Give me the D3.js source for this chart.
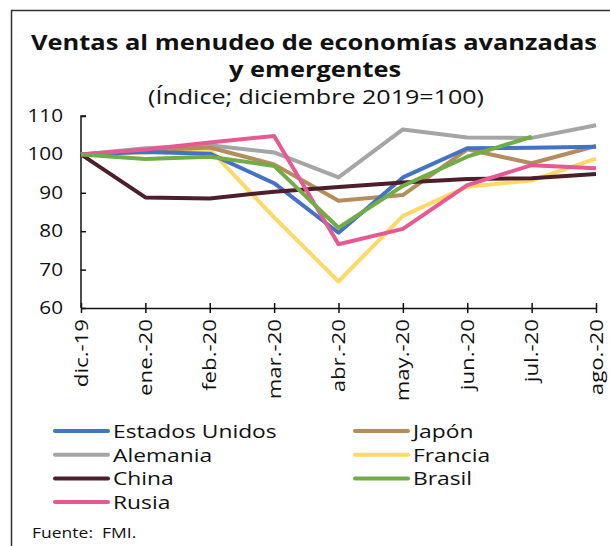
<!DOCTYPE html>
<html>
<head>
<meta charset="utf-8">
<script src="https://cdn.jsdelivr.net/npm/d3@7"></script>
<style>
  body { margin: 0; background: #fff; }
  text { font-family: "Open Sans", "Noto Sans", sans-serif; fill: #111; }
</style>
</head>
<body>
<div id="chart"></div>
<script>
const months = ['dic.-19', 'ene.-20', 'feb.-20', 'mar.-20', 'abr.-20', 'may.-20', 'jun.-20', 'jul.-20', 'ago.-20'];
const yTicks = [60, 70, 80, 90, 100, 110];

const estadosUnidos = [100, 100.6, 100.2, 92.5, 79.6, 94.0, 101.6, 101.7, 102.0];
const japon = [100, 101.0, 101.8, 97.4, 87.9, 89.4, 101.3, 97.7, 102.2];
const alemania = [100, 101.6, 102.4, 100.5, 94.0, 106.5, 104.4, 104.3, 107.6];
const francia = [100, 100.5, 101.3, 83.6, 66.9, 84.0, 91.6, 93.2, 98.9];
const china = [100, 88.8, 88.5, 90.3, 91.5, 92.7, 93.6, 93.8, 94.9];
const brasil = [100, 98.8, 99.4, 97.0, 80.9, 91.8, 99.4, 104.6];
const rusia = [100, 101.3, 103.1, 104.8, 76.6, 80.6, 92.0, 97.2, 96.4];

const series = [
  { name: 'Estados Unidos', values: estadosUnidos, color: '#4472c4' },
  { name: 'Japón', values: japon, color: '#b38d5b' },
  { name: 'Alemania', values: alemania, color: '#a5a5a5' },
  { name: 'Francia', values: francia, color: '#ffd966' },
  { name: 'China', values: china, color: '#4d1f2b' },
  { name: 'Brasil', values: brasil, color: '#70ad47' },
  { name: 'Rusia', values: rusia, color: '#e75993' }
];
// order the lines are stacked in (last on top)
const drawOrder = ['Alemania', 'Francia', 'Japón', 'Estados Unidos', 'China', 'Rusia', 'Brasil'];

const width = 610;
const height = 546;
const widen = 1.2; // reference font runs wider than what we have

function stretch(sel, k) {
  sel.each(function() {
    const len = this.getComputedTextLength();
    d3.select(this).attr('textLength', len * k).attr('lengthAdjust', 'spacingAndGlyphs');
  });
}

const svg = d3.select('#chart')
  .append('svg')
  .attr('width', width)
  .attr('height', height);

// frame (top and left edges visible)
svg.append('path')
  .attr('d', `M11.5,${height} V10.5 H${width}`)
  .attr('fill', 'none')
  .attr('stroke', '#333')
  .attr('stroke-width', 1.5);

svg.append('text')
  .attr('x', 314).attr('y', 50)
  .attr('text-anchor', 'middle')
  .style('font-size', '21px').style('font-weight', 'bold')
  .attr('textLength', 566).attr('lengthAdjust', 'spacingAndGlyphs')
  .text('Ventas al menudeo de economías avanzadas');
svg.append('text')
  .attr('x', 315).attr('y', 77)
  .attr('text-anchor', 'middle')
  .style('font-size', '21px').style('font-weight', 'bold')
  .attr('textLength', 172).attr('lengthAdjust', 'spacingAndGlyphs')
  .text('y emergentes');
svg.append('text')
  .attr('x', 316).attr('y', 104)
  .attr('text-anchor', 'middle')
  .style('font-size', '20px')
  .attr('textLength', 336).attr('lengthAdjust', 'spacingAndGlyphs')
  .text('(Índice; diciembre 2019=100)');

const x = d3.scalePoint().domain(months).range([81, 596]);
const y = d3.scaleLinear().domain([60, 110]).range([308, 116]);

// y axis
const yAxis = svg.append('g')
  .attr('transform', 'translate(81,0)')
  .call(d3.axisRight(y).tickValues(yTicks).tickSize(5).tickFormat(''));
yAxis.select('.domain').attr('stroke', '#111').attr('stroke-width', 1.5).attr('d', `M5,116 H0 V308`);
yAxis.selectAll('.tick line').attr('stroke', '#111').attr('stroke-width', 1.5);

svg.append('g').selectAll('text')
  .data(yTicks).enter()
  .append('text')
  .attr('x', 63)
  .attr('y', d => y(d) + 6)
  .attr('text-anchor', 'end')
  .style('font-size', '18px')
  .text(d => d)
  .call(stretch, 1.15);

// x axis
const xAxis = svg.append('g')
  .attr('transform', 'translate(0,308)')
  .call(d3.axisBottom(x).tickSize(5).tickSizeOuter(0).tickFormat(''));
xAxis.select('.domain').attr('stroke', '#111').attr('stroke-width', 1.5);
xAxis.selectAll('.tick line').attr('stroke', '#111').attr('stroke-width', 1.5).attr('y1', -5);

svg.append('g').selectAll('text')
  .data(months).enter()
  .append('text')
  .attr('transform', d => `translate(${x(d) + 6.5},319) rotate(-90)`)
  .attr('text-anchor', 'end')
  .style('font-size', '18.5px')
  .text(d => d)
  .call(stretch, widen);

// lines
const line = d3.line()
  .x((d, i) => x(months[i]))
  .y(d => y(d));

svg.append('g').selectAll('path')
  .data(drawOrder.map(n => series.find(s => s.name === n))).enter()
  .append('path')
  .attr('d', d => line(d.values))
  .attr('fill', 'none')
  .attr('stroke', d => d.color)
  .attr('stroke-width', 4)
  .attr('stroke-linejoin', 'round');

// legend
const legend = svg.append('g').selectAll('g')
  .data(series).enter()
  .append('g')
  .attr('transform', (d, i) => `translate(${i % 2 === 0 ? 55 : 355},${431 + Math.floor(i / 2) * 23.7})`);

legend.append('line')
  .attr('x1', 0).attr('x2', 53)
  .attr('stroke', d => d.color)
  .attr('stroke-width', 4)
  .attr('stroke-linecap', 'round');

legend.append('text')
  .attr('x', 58).attr('y', 7)
  .style('font-size', '19px')
  .text(d => d.name)
  .call(stretch, widen);

svg.append('text')
  .attr('x', 32).attr('y', 538)
  .style('font-size', '14px')
  .text('Fuente:  FMI.')
  .style('white-space', 'pre')
  .call(stretch, 1.25);
</script>
</body>
</html>
